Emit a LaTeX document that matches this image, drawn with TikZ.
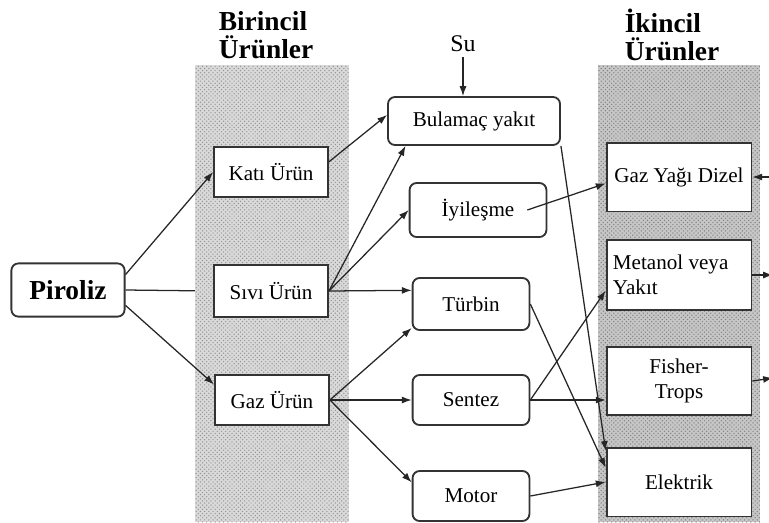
\documentclass[tikz,border=0pt]{standalone}
\usepackage{fontspec}
\setmainfont{Liberation Serif}
\usepackage{tikz}
\usetikzlibrary{arrows.meta,patterns}

\begin{document}
\begin{tikzpicture}[x=0.025cm,y=-0.025cm]

\tikzset{box/.style = {shape=rectangle,draw=black!80,line width=1.3pt,fill=white,
  font=\fontsize{15}{18}\selectfont,inner sep=2pt}}
\tikzset{rbox/.style = {box,rounded corners=5pt}}
\tikzset{title/.style = {font=\fontsize{19.5}{20}\bfseries\selectfont,align=left}}
\tikzset{edge/.style = {->,> = {Latex[length=7pt,width=5pt]},line width=0.9pt,black!85}}

\useasboundingbox (0,0) rectangle (769,522);

% shaded bands
\fill[gray!30] (195,65) rectangle (349,522);
\fill[pattern=crosshatch dots,pattern color=gray!85] (195,65) rectangle (349,522);
\fill[gray!45] (598,65) rectangle (760,522);
\fill[pattern=crosshatch dots,pattern color=gray] (598,65) rectangle (760,522);

% titles
\node[title] (birincil) at (266,35) {Birincil\\Ürünler};
\node[title] (ikincil) at (672,35) {İkincil\\Ürünler};
\node[font=\fontsize{17}{18}\selectfont] (su) at (463,44) {Su};

% vertices
\node[rbox,minimum width=2.83cm,minimum height=1.33cm,font=\fontsize{19.5}{20}\bfseries\selectfont] (piroliz) at (68,290) {Piroliz};

\node[box,minimum width=2.85cm,minimum height=1.25cm] (kati) at (271,172) {Katı Ürün};
\node[box,minimum width=2.85cm,minimum height=1.3cm] (sivi) at (271,291) {Sıvı Ürün};
\node[box,minimum width=2.85cm,minimum height=1.25cm] (gaz) at (272,400) {Gaz Ürün};

\node[rbox,minimum width=4.3cm,minimum height=1.2cm] (bulamac) at (474,121) {Bulamaç yakıt};
\node[rbox,minimum width=3.42cm,minimum height=1.35cm] (iyilesme) at (478,210) {İyileşme};
\node[rbox,minimum width=2.92cm,minimum height=1.3cm] (turbin) at (471,304) {Türbin};
\node[rbox,minimum width=2.92cm,minimum height=1.25cm] (sentez) at (471,400) {Sentez};
\node[rbox,minimum width=2.92cm,minimum height=1.25cm] (motor) at (471,496) {Motor};

\node[box,minimum width=3.62cm,minimum height=1.72cm] (dizel) at (679,177) {Gaz Yağı Dizel};
\node[box,minimum width=3.62cm,minimum height=1.75cm,text width=3.3cm,align=flush left] (metanol) at (679,275) {Metanol veya\\Yakıt};
\node[box,minimum width=3.62cm,minimum height=1.7cm,align=center] (fisher) at (679,381) {Fisher-\\Trops};
\node[box,minimum width=3.62cm,minimum height=1.72cm] (elektrik) at (679,482) {Elektrik};

\coordinate (r1) at (769,177);
\coordinate (r2) at (773,275);
\coordinate (r3) at (773,378);

% edges
\draw[edge] (su.south) -- (su.south |- bulamac.north);
\draw[edge] (piroliz.15) -- (kati.west);
\draw[line width=0.9pt,black!85,shorten >=13pt] (piroliz.east) -- (sivi.west);
\draw[edge] (piroliz.-15) -- (gaz.165);

\draw[edge] (kati.10) -- (bulamac.176);
\draw[edge] (sivi.east) -- (bulamac.200);
\draw[edge] (sivi.east) -- (iyilesme.west);
\draw[edge] (sivi.east) -- (turbin.167);

\draw[edge] (gaz.east) -- (turbin.202);
\draw[edge] (gaz.east) -- (sentez.west);
\draw[edge] (gaz.east) -- (motor.167);

\draw[edge] (bulamac.south east) -- (elektrik.157);
\draw[edge] ([xshift=-0.5cm]iyilesme.east) -- (dizel.185);
\draw[edge] (turbin.east) -- (elektrik.169);
\draw[edge] (sentez.east) -- (metanol.192);
\draw[edge] (sentez.east) -- (sentez.east -| fisher.west);
\draw[edge] (motor.east) -- (elektrik.west);

\draw[edge] (r1) -- (dizel.east);
\draw[edge] (metanol.east) -- (r2);
\draw[edge] (fisher.east) -- (r3);

\end{tikzpicture}
\end{document}
